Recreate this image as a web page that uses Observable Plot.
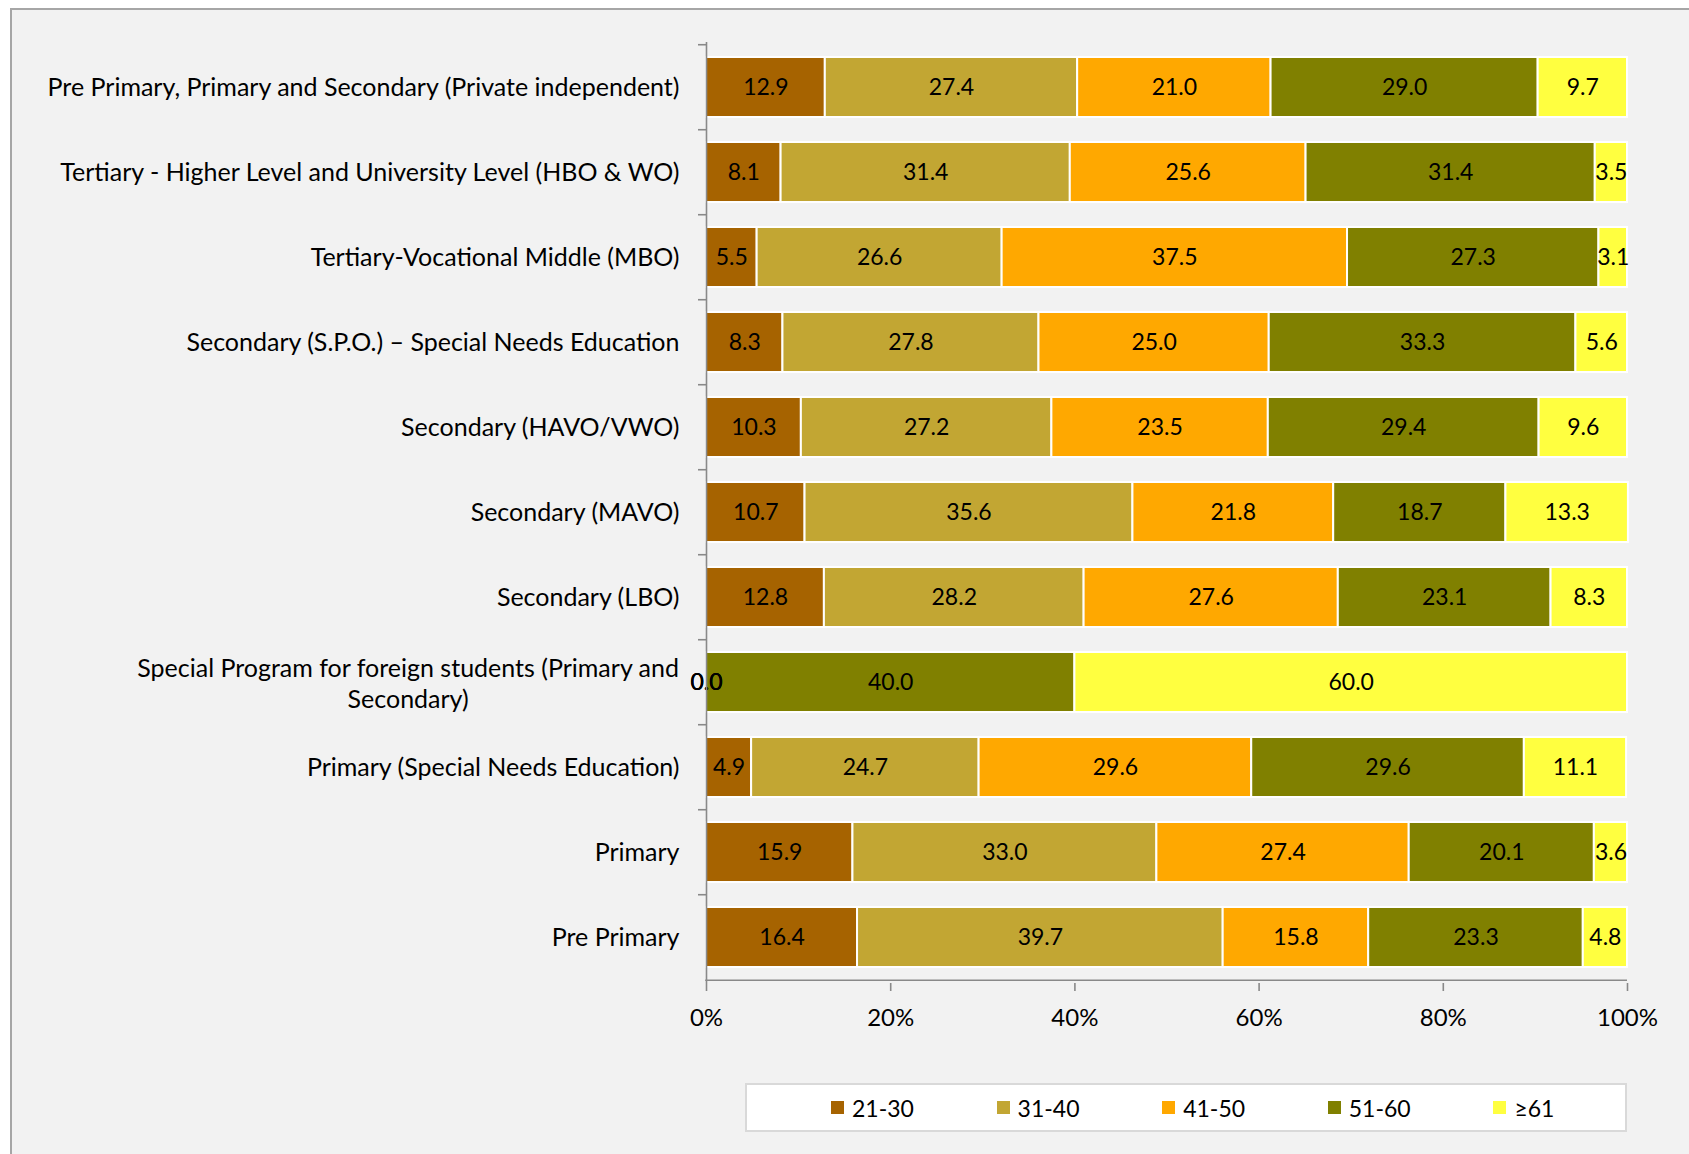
<!DOCTYPE html>
<html><head><meta charset="utf-8">
<script src="https://cdn.jsdelivr.net/npm/d3@7"></script>
<script src="https://cdn.jsdelivr.net/npm/@observablehq/plot@0.6"></script>
<style>
html,body{margin:0;padding:0;background:#fff;width:1689px;height:1154px;overflow:hidden;font-family:Lato,"Open Sans",sans-serif;}
#frame{position:absolute;left:10px;top:8px;width:1700px;height:1200px;background:#f2f2f2;border-left:2px solid #a6a6a6;border-top:2px solid #a6a6a6;}
#chart{position:absolute;left:0;top:0;}
#legend{position:absolute;left:745px;top:1083px;width:882px;height:49px;background:#fff;border:2px solid #d9d9d9;display:flex;padding-left:84px;box-sizing:border-box;}
.item{width:165.6px;flex:none;height:45px;display:flex;align-items:center;font-size:23px;color:#000;}
.sw{width:13px;height:13px;margin-right:8px;flex:none;}
</style>
</head><body>
<div id="frame"></div>
<div id="chart"></div>
<div id="legend"></div>
<script>
const categories = [
  "Pre Primary, Primary and Secondary (Private independent)",
  "Tertiary - Higher Level and University Level (HBO & WO)",
  "Tertiary-Vocational Middle (MBO)",
  "Secondary (S.P.O.) – Special Needs Education",
  "Secondary (HAVO/VWO)",
  "Secondary (MAVO)",
  "Secondary (LBO)",
  "Special Program for foreign students (Primary and Secondary)",
  "Primary (Special Needs Education)",
  "Primary",
  "Pre Primary"
];
const wrappedLine1 = "Special Program for foreign students (Primary and";
const wrappedLine2 = "Secondary)";
const series = ["21-30", "31-40", "41-50", "51-60", "≥61"];
const colors = ["#a66300", "#c2a633", "#ffa800", "#808000", "#ffff40"];
const v21_30 = [12.9, 8.1, 5.5, 8.3, 10.3, 10.7, 12.8, 0.0, 4.9, 15.9, 16.4];
const v31_40 = [27.4, 31.4, 26.6, 27.8, 27.2, 35.6, 28.2, 0.0, 24.7, 33.0, 39.7];
const v41_50 = [21.0, 25.6, 37.5, 25.0, 23.5, 21.8, 27.6, 0.0, 29.6, 27.4, 15.8];
const v51_60 = [29.0, 31.4, 27.3, 33.3, 29.4, 18.7, 23.1, 40.0, 29.6, 20.1, 23.3];
const v61 = [9.7, 3.5, 3.1, 5.6, 9.6, 13.3, 8.3, 60.0, 11.1, 3.6, 4.8];
const xTicks = [0, 20, 40, 60, 80, 100];

const cols = [v21_30, v31_40, v41_50, v51_60, v61];
const data = categories.flatMap((c, i) => series.map((s, j) => ({category: c, series: s, value: cols[j][i]})));
const fmt = d3.format(".1f");

const W = 1689, H = 1060, mT = 42, mB = 77, mL = 706, mR = 62;
const step = (H - mT - mB) / categories.length;
const axisColor = "#898989";
const fontFamily = "Lato, 'Open Sans', sans-serif";
const catFs = 25, valFs = 23, tickFs = 24;
const catPad = 27;

const ctx = document.createElement("canvas").getContext("2d");
ctx.font = `${catFs}px Lato`;
const w1 = ctx.measureText(wrappedLine1).width;
const wrapped = categories[7];

const chart = Plot.plot({
  width: W, height: H, marginTop: mT, marginBottom: mB, marginLeft: mL, marginRight: mR,
  style: {background: "transparent", fontFamily, fontSize: valFs + "px", color: "#000"},
  x: {domain: [0, 100], ticks: xTicks, label: null},
  y: {domain: categories, paddingInner: 0.29, paddingOuter: 0.145, label: null},
  color: {domain: series, range: colors},
  marks: [
    Plot.barX(data, Plot.stackX({x: "value", y: "category", fill: "series", stroke: "#fff", strokeWidth: 2})),
    Plot.text(data, Plot.stackX({x: "value", y: "category", text: d => fmt(d.value), fill: "#000", fontSize: valFs})),
    Plot.ruleX([0], {stroke: axisColor, strokeWidth: 1.6}),
    Plot.ruleY(categories, {y: d => d, x1: 0, x2: 0, insetLeft: -8, dy: -step / 2, stroke: axisColor, strokeWidth: 1.6}),
    Plot.ruleY([categories[categories.length - 1]], {y: d => d, x1: 0, x2: 100, insetLeft: -0.8, dy: step / 2, stroke: axisColor, strokeWidth: 1.6}),
    Plot.axisX({ticks: xTicks, tickFormat: d => d + "%", tickSize: 8, tickPadding: 17, stroke: axisColor, strokeWidth: 1.6, fontSize: tickFs, fill: "#000", label: null}),
    Plot.axisY({tickSize: 0, tickPadding: catPad, tickFormat: d => d === wrapped ? "" : d, fontSize: catFs, fill: "#000", label: null}),
    Plot.text([wrapped], {y: d => d, x: 0, text: () => wrappedLine1 + "\n" + wrappedLine2, textAnchor: "middle", dx: -(catPad + w1 / 2), lineHeight: 1.25, fontSize: catFs, fill: "#000"})
  ]
});
document.getElementById("chart").appendChild(chart);

const legend = document.getElementById("legend");
series.forEach((s, j) => {
  const item = document.createElement("div");
  item.className = "item";
  const sw = document.createElement("span");
  sw.className = "sw";
  sw.style.background = colors[j];
  const lab = document.createElement("span");
  lab.textContent = s;
  item.appendChild(sw); item.appendChild(lab);
  legend.appendChild(item);
});
</script>
</body></html>
